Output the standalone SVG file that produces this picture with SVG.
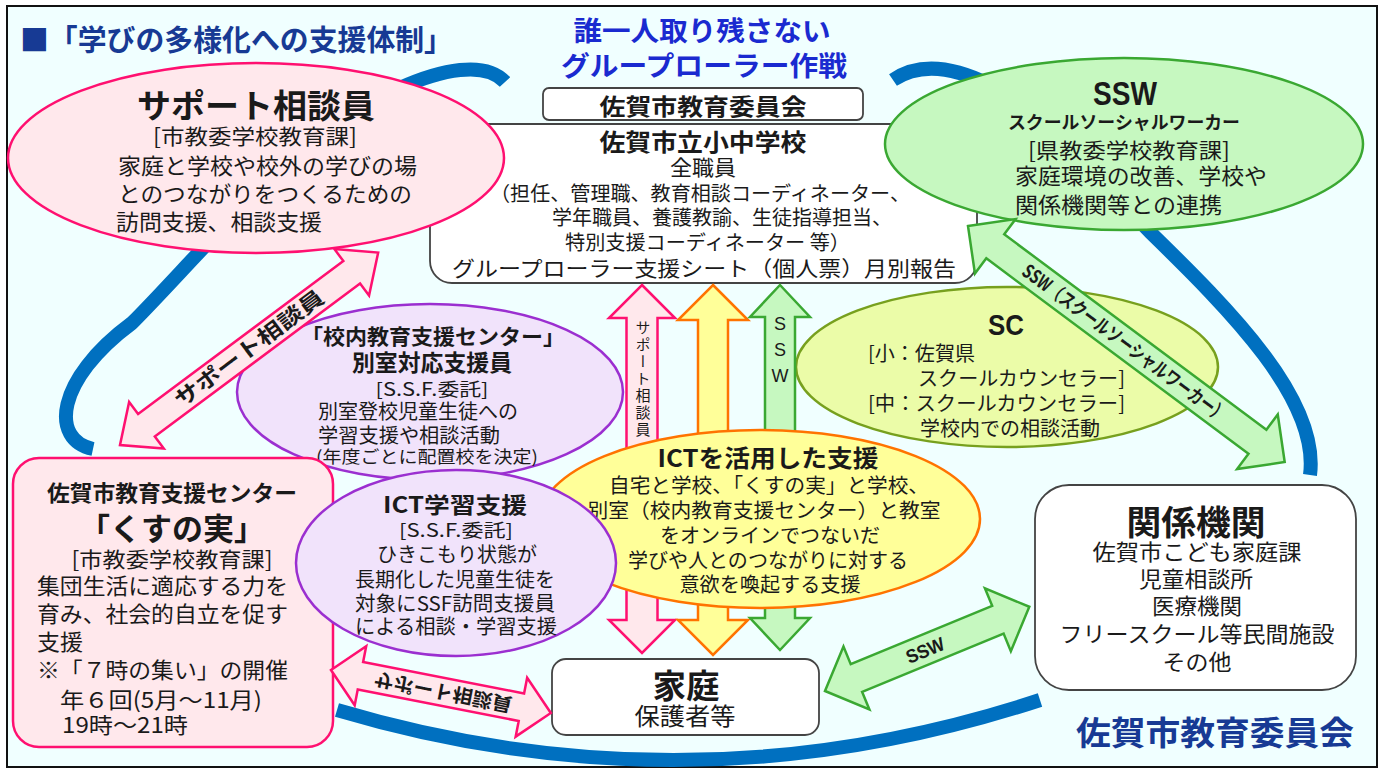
<svg xmlns="http://www.w3.org/2000/svg" width="1383" height="773" viewBox="0 0 1383 773">
<style>
text { font-family: 'Noto Sans CJK JP', 'Noto Sans CJK SC', sans-serif; fill: #1a1a1a; }
.b { font-weight: 700; }
.m { text-anchor: middle; }
.lat { font-family: 'Liberation Sans', 'Noto Sans CJK JP', sans-serif; }
.arc { fill: none; stroke: #0070c0; stroke-width: 14; }
.pk { fill: #ffe8ec; stroke: #ff1070; stroke-width: 2.5; }
.pu { fill: #f1e3fb; stroke: #9b2fd0; stroke-width: 2.5; }
.ye { fill: #ffff99; stroke: #ff7300; stroke-width: 2.5; }
.gr { fill: #c6f8c0; stroke: #3aa832; stroke-width: 2.5; }
.sc { fill: #ebfca8; stroke: #77a01e; stroke-width: 2.5; }
.wb { fill: #ffffff; stroke: #444444; stroke-width: 1.8; }
.navy { fill: #173a94; }
.blue { fill: #1a2ad0; }
</style>

<rect x="7" y="6" width="1370" height="761" fill="#f0ffff" stroke="#111" stroke-width="2"/>

<g id="title">
<text x="20" y="51" class="b navy" font-size="29" textLength="433" lengthAdjust="spacingAndGlyphs">■「学びの多様化への支援体制」</text>
<text x="702" y="41" class="b m blue" font-size="27" textLength="257" lengthAdjust="spacingAndGlyphs">誰一人取り残さない</text>
<text x="704" y="76" class="b m blue" font-size="27" textLength="286" lengthAdjust="spacingAndGlyphs">グループローラー作戦</text>
</g>

<g id="loop">
<path class="arc" d="M 93 449 C 50 440 55 380 132 323 C 200 255 300 130 400 88 C 440 70 485 60 505 82"/>
<path class="arc" d="M 893 80 Q 930 55 990 85 C 1050 120 1110 190 1150 232 C 1230 310 1320 400 1310 475"/>
<path class="arc" d="M 337 710 Q 690 815 1040 700"/>
</g>

<g id="kyoiku-iinkai">
<rect x="543" y="88" width="320" height="32" rx="6" class="wb"/>
<text x="703" y="115" class="b m" font-size="23" textLength="207" lengthAdjust="spacingAndGlyphs">佐賀市教育委員会</text>
</g>

<g id="shiritsu-gakko">
<rect x="430" y="124" width="547" height="159" rx="22" class="wb"/>
<text x="703" y="151" class="b m" font-size="24" textLength="207" lengthAdjust="spacingAndGlyphs">佐賀市立小中学校</text>
<text x="703" y="175" class="m" font-size="21" textLength="66" lengthAdjust="spacingAndGlyphs">全職員</text>
<text x="490" y="201" font-size="20" textLength="420" lengthAdjust="spacingAndGlyphs">（担任、管理職、教育相談コーディネーター、</text>
<text x="552" y="225" font-size="20" textLength="340" lengthAdjust="spacingAndGlyphs">学年職員、養護教諭、生徒指導担当、</text>
<text x="565" y="250" font-size="20" textLength="285" lengthAdjust="spacingAndGlyphs">特別支援コーディネーター 等）</text>
<text x="452" y="276" font-size="21" textLength="504" lengthAdjust="spacingAndGlyphs">グループローラー支援シート（個人票）月別報告</text>
</g>

<g id="support-soudanin">
<ellipse cx="256" cy="158" rx="248" ry="95" class="pk"/>
<text x="256" y="118" class="b m" font-size="33" textLength="238" lengthAdjust="spacingAndGlyphs">サポート相談員</text>
<text x="255" y="144" class="m" font-size="21" textLength="204" lengthAdjust="spacingAndGlyphs">[市教委学校教育課]</text>
<text x="118" y="174" font-size="22" textLength="299" lengthAdjust="spacingAndGlyphs">家庭と学校や校外の学びの場</text>
<text x="118" y="202" font-size="22" textLength="294" lengthAdjust="spacingAndGlyphs">とのつながりをつくるための</text>
<text x="116" y="230" font-size="22" textLength="206" lengthAdjust="spacingAndGlyphs">訪問支援、相談支援</text>
</g>

<g id="ssw">
<ellipse cx="1124" cy="144" rx="239" ry="86" class="gr"/>
<text x="1125" y="105" class="b m lat" font-size="34" textLength="64" lengthAdjust="spacingAndGlyphs">SSW</text>
<text x="1124" y="129" class="b m" font-size="18" textLength="232" lengthAdjust="spacingAndGlyphs">スクールソーシャルワーカー</text>
<text x="1129" y="158" class="m" font-size="21" textLength="202" lengthAdjust="spacingAndGlyphs">[県教委学校教育課]</text>
<text x="1015" y="184" font-size="22" textLength="252" lengthAdjust="spacingAndGlyphs">家庭環境の改善、学校や</text>
<text x="1015" y="213" font-size="22" textLength="207" lengthAdjust="spacingAndGlyphs">関係機関等との連携</text>
</g>

<g id="sc">
<ellipse cx="1007" cy="367" rx="211" ry="80" class="sc"/>
<text x="1006" y="335" class="b m lat" font-size="30" textLength="36" lengthAdjust="spacingAndGlyphs">SC</text>
<text x="868" y="361" font-size="20" textLength="107" lengthAdjust="spacingAndGlyphs">[小：佐賀県</text>
<text x="918" y="386" font-size="20" textLength="207" lengthAdjust="spacingAndGlyphs">スクールカウンセラー]</text>
<text x="868" y="411" font-size="20" textLength="257" lengthAdjust="spacingAndGlyphs">[中：スクールカウンセラー]</text>
<text x="920" y="436" font-size="20" textLength="180" lengthAdjust="spacingAndGlyphs">学校内での相談活動</text>
</g>

<g id="konai-center">
<ellipse cx="430" cy="392" rx="193" ry="88" class="pu"/>
<text x="433" y="344" class="b m" font-size="21" textLength="264" lengthAdjust="spacingAndGlyphs">「校内教育支援センター」</text>
<text x="432" y="371" class="b m" font-size="23" textLength="160" lengthAdjust="spacingAndGlyphs">別室対応支援員</text>
<text x="432" y="396" class="m" font-size="18" textLength="113" lengthAdjust="spacingAndGlyphs">[S.S.F.委託]</text>
<text x="318" y="419" font-size="20" textLength="200" lengthAdjust="spacingAndGlyphs">別室登校児童生徒への</text>
<text x="318" y="443" font-size="20" textLength="182" lengthAdjust="spacingAndGlyphs">学習支援や相談活動</text>
<text x="316" y="463" font-size="17" textLength="222" lengthAdjust="spacingAndGlyphs">(年度ごとに配置校を決定)</text>
</g>

<g id="kusunomi">
<rect x="13" y="458" width="320" height="289" rx="26" class="pk"/>
<text x="172" y="501" class="b m" font-size="22" textLength="250" lengthAdjust="spacingAndGlyphs">佐賀市教育支援センター</text>
<text x="172" y="540" class="b m" font-size="31" textLength="186" lengthAdjust="spacingAndGlyphs">「くすの実」</text>
<text x="172" y="567" class="m" font-size="21" textLength="201" lengthAdjust="spacingAndGlyphs">[市教委学校教育課]</text>
<text x="37" y="594" font-size="22" textLength="251" lengthAdjust="spacingAndGlyphs">集団生活に適応する力を</text>
<text x="37" y="622" font-size="22" textLength="251" lengthAdjust="spacingAndGlyphs">育み、社会的自立を促す</text>
<text x="37" y="650" font-size="22" textLength="46" lengthAdjust="spacingAndGlyphs">支援</text>
<text x="37" y="678" font-size="22" textLength="251" lengthAdjust="spacingAndGlyphs">※「７時の集い」の開催</text>
<text x="60" y="708" font-size="22" textLength="202" lengthAdjust="spacingAndGlyphs">年６回(5月～11月)</text>
<text x="62" y="733" font-size="22" textLength="126" lengthAdjust="spacingAndGlyphs">19時～21時</text>
</g>

<g id="katei">
<rect x="552" y="659" width="267" height="76" rx="14" class="wb"/>
<text x="686" y="698" class="b m" font-size="33" textLength="67" lengthAdjust="spacingAndGlyphs">家庭</text>
<text x="685" y="725" class="m" font-size="24" textLength="101" lengthAdjust="spacingAndGlyphs">保護者等</text>
</g>

<g id="kankei-kikan">
<rect x="1035" y="485" width="321" height="205" rx="34" class="wb"/>
<text x="1196" y="535" class="b m" font-size="34" textLength="139" lengthAdjust="spacingAndGlyphs">関係機関</text>
<text x="1197" y="560" class="m" font-size="22" textLength="209" lengthAdjust="spacingAndGlyphs">佐賀市こども家庭課</text>
<text x="1196" y="587" class="m" font-size="22" textLength="114" lengthAdjust="spacingAndGlyphs">児童相談所</text>
<text x="1197" y="614" class="m" font-size="22" textLength="90" lengthAdjust="spacingAndGlyphs">医療機関</text>
<text x="1197" y="642" class="m" font-size="22" textLength="275" lengthAdjust="spacingAndGlyphs">フリースクール等民間施設</text>
<text x="1197" y="670" class="m" font-size="22" textLength="69" lengthAdjust="spacingAndGlyphs">その他</text>
</g>

<g id="iinkai-footer">
<text x="1076" y="745" class="b navy" font-size="33" textLength="278" lengthAdjust="spacingAndGlyphs">佐賀市教育委員会</text>
</g>

<g id="connectors">
<g transform="translate(642,285) rotate(90)">
<path class="pk" d="M0 0 L33 -33 L33 -15.5 L335 -15.5 L335 -33 L368 0 L335 33 L335 15.5 L33 15.5 L33 33 Z"/>
</g>
<g transform="translate(713,285) rotate(90)">
<path class="ye" d="M0 0 L35 -35 L35 -15 L335 -15 L335 -35 L370 0 L335 35 L335 15 L35 15 L35 35 Z"/>
</g>
<g transform="translate(780,285) rotate(90)">
<path class="gr" d="M0 0 L32 -30 L32 -15 L333 -15 L333 -30 L365 0 L333 30 L333 15 L32 15 L32 30 Z"/>
</g>
<text x="643" y="320" font-size="15" letter-spacing="2" style="writing-mode: vertical-rl;">サポート相談員</text>
<text x="780" y="330" class="m lat" font-size="18">S</text>
<text x="780" y="356" class="m lat" font-size="18">S</text>
<text x="780" y="382" class="m lat" font-size="18">W</text>

<g transform="translate(120,445) rotate(-36.7)">
<path class="pk" d="M0 0 L33 -29 L33 -14 L289 -14 L289 -29 L322 0 L289 29 L289 14 L33 14 L33 29 Z"/>
</g>
<g transform="translate(249,348) rotate(-36.7)">
<text x="0" y="8" class="b m" font-size="21" textLength="180" lengthAdjust="spacingAndGlyphs">サポート相談員</text>
</g>

<g transform="translate(968,226) rotate(36.7)">
<path class="gr" d="M0 0 L34 -34 L34 -15 L361 -15 L361 -34 L395 0 L361 34 L361 15 L34 15 L34 34 Z"/>
</g>
<g transform="translate(1125,343) rotate(36.7)">
<text x="0" y="7" class="b m" font-size="19" textLength="250" lengthAdjust="spacingAndGlyphs">SSW（スクールソーシャルワーカー）</text>
</g>

<g transform="translate(825,691) rotate(-22.4)">
<path class="gr" d="M0 0 L34 -34 L34 -15 L187 -15 L187 -34 L221 0 L187 34 L187 15 L34 15 L34 34 Z"/>
</g>
<g transform="translate(925,650) rotate(-22.4)">
<text x="0" y="7" class="b m lat" font-size="19" textLength="40" lengthAdjust="spacingAndGlyphs">SSW</text>
</g>

<g transform="translate(331,670) rotate(11.06)">
<path class="pk" d="M0 0 L30 -30 L30 -14 L194 -14 L194 -30 L224 0 L194 30 L194 14 L30 14 L30 30 Z"/>
</g>
<g transform="translate(443,692) rotate(11.06) scale(1,-1)">
<text x="0" y="7" class="b m" font-size="19" textLength="140" lengthAdjust="spacingAndGlyphs">サポート相談員</text>
</g>
</g>

<g id="ict-katsuyo">
<ellipse cx="760" cy="519" rx="220" ry="89" class="ye"/>
<text x="768" y="467" class="b m" font-size="24" textLength="221" lengthAdjust="spacingAndGlyphs">ICTを活用した支援</text>
<text x="769" y="493" class="m" font-size="20" textLength="320" lengthAdjust="spacingAndGlyphs">自宅と学校、「くすの実」と学校、</text>
<text x="764" y="518" class="m" font-size="20" textLength="353" lengthAdjust="spacingAndGlyphs">別室（校内教育支援センター）と教室</text>
<text x="770" y="543" class="m" font-size="20" textLength="220" lengthAdjust="spacingAndGlyphs">をオンラインでつないだ</text>
<text x="768" y="568" class="m" font-size="20" textLength="280" lengthAdjust="spacingAndGlyphs">学びや人とのつながりに対する</text>
<text x="770" y="592" class="m" font-size="20" textLength="181" lengthAdjust="spacingAndGlyphs">意欲を喚起する支援</text>
</g>

<g id="ict-gakushu">
<ellipse cx="456" cy="563" rx="160" ry="93" class="pu"/>
<text x="455" y="513" class="b m" font-size="22" textLength="144" lengthAdjust="spacingAndGlyphs">ICT学習支援</text>
<text x="456" y="537" class="m" font-size="18" textLength="114" lengthAdjust="spacingAndGlyphs">[S.S.F.委託]</text>
<text x="457" y="562" class="m" font-size="20" textLength="160" lengthAdjust="spacingAndGlyphs">ひきこもり状態が</text>
<text x="455" y="587" class="m" font-size="20" textLength="200" lengthAdjust="spacingAndGlyphs">長期化した児童生徒を</text>
<text x="455" y="611" class="m" font-size="20" textLength="200" lengthAdjust="spacingAndGlyphs">対象にSSF訪問支援員</text>
<text x="456" y="634" class="m" font-size="20" textLength="202" lengthAdjust="spacingAndGlyphs">による相談・学習支援</text>
</g>
</svg>
